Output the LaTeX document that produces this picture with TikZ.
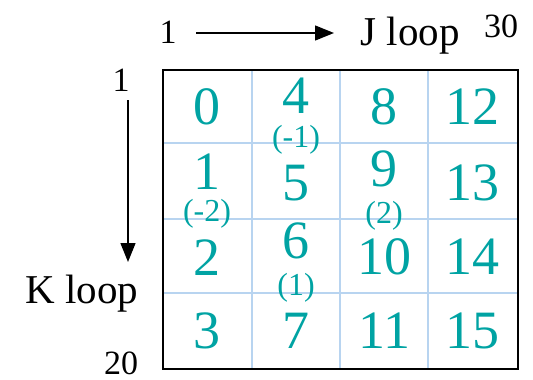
\documentclass[tikz,border=0pt]{standalone}
\usepackage{fontspec}
\setmainfont{Liberation Serif}
\usetikzlibrary{arrows.meta}
\definecolor{cellnum}{RGB}{0,163,163}
\definecolor{gridblue}{RGB}{184,212,240}
\begin{document}
\begin{tikzpicture}[x=1pt,y=-1pt,
  num/.style={text=cellnum,font=\fontsize{54}{54}\selectfont,inner sep=0pt},
  sub/.style={text=cellnum,font=\fontsize{32}{32}\selectfont,inner sep=0pt},
  lbl/.style={text=black,font=\fontsize{41}{41}\selectfont,inner sep=0pt},
  bound/.style={text=black,font=\fontsize{34}{34}\selectfont,inner sep=0pt},
  loop arrow/.style={line width=1.4pt,-{Triangle[length=19pt,width=15pt]}}]
\useasboundingbox (0,0) rectangle (533,380);
% inner grid lines
\draw[gridblue,line width=1.6pt]
  (252,70) -- (252,369) (340,70) -- (340,369) (428,70) -- (428,369)
  (163,143) -- (518,143) (163,219) -- (518,219) (163,293) -- (518,293);
% outer frame
\draw[black,line width=1.6pt] (163,70) rectangle (518,369);
% cell numbers
\node[num] (n0)  at (207,107) {0};
\node[num] (n4)  at (296,96)  {4};
\node[sub] (s4)  at (296,140) {(-1)};
\node[num] (n8)  at (384,107) {8};
\node[num] (n12) at (472,107) {12};
\node[num] (n1)  at (207,172) {1};
\node[sub] (s1)  at (207,214) {(-2)};
\node[num] (n5)  at (296,183) {5};
\node[num] (n9)  at (384,169) {9};
\node[sub] (s9)  at (384,216) {(2)};
\node[num] (n13) at (472,183) {13};
\node[num] (n2)  at (207,258) {2};
\node[num] (n6)  at (296,241) {6};
\node[sub] (s6)  at (296,288) {(1)};
\node[num] (n10) at (384,257) {10};
\node[num] (n14) at (472,257) {14};
\node[num] (n3)  at (207,331) {3};
\node[num] (n7)  at (296,331) {7};
\node[num] (n11) at (384,331) {11};
\node[num] (n15) at (472,331) {15};
% J loop axis
\node[bound] (jstart) at (168,32) {1};
\node[lbl]   (jlbl)   at (410,36) {J loop};
\node[bound] (jend)   at (501,26) {30};
\coordinate (ja) at (196,33);
\coordinate (jb) at (334,33);
\draw[loop arrow] (ja) -- (jb);
% K loop axis
\node[bound] (kstart) at (121,80)  {1};
\node[lbl]   (klbl)   at (82,294)  {K loop};
\node[bound] (kend)   at (121,363) {20};
\coordinate (ka) at (128,100);
\coordinate (kb) at (128,262);
\draw[loop arrow] (ka) -- (kb);
\end{tikzpicture}
\end{document}
